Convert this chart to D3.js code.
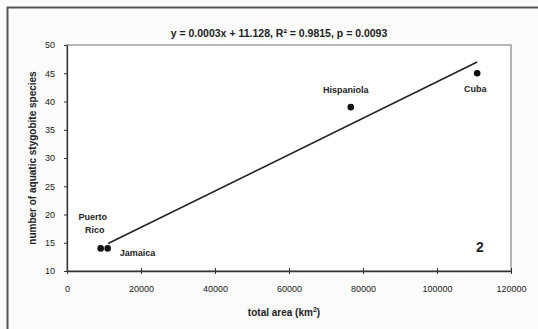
<!DOCTYPE html>
<html>
<head>
<meta charset="utf-8">
<script src="https://cdn.jsdelivr.net/npm/d3@7"></script>
<style>
  html, body { margin: 0; padding: 0; background: #fbfbfb; }
  svg { display: block; font-family: Arial, "Liberation Sans", sans-serif; }
</style>
</head>
<body>
<div id="chart"></div>
<script>
// islands, area in km2 and species count
const islands = ['Puerto Rico', 'Jamaica', 'Hispaniola', 'Cuba']
const areas = [9104, 10991, 76700, 110860]
const species = [14, 14, 39, 45]

const xTicks = [0, 20000, 40000, 60000, 80000, 100000, 120000]
const yTicks = [10, 15, 20, 25, 30, 35, 40, 45, 50]

const titleText = 'y = 0.0003x + 11.128, R\u00b2 = 0.9815, p = 0.0093'

const width = 538
const height = 329
const margin = { top: 45, right: 27, bottom: 58, left: 67 }

const svg = d3.select('#chart')
  .append('svg')
  .attr('width', width)
  .attr('height', height)

// outer frame of the scanned figure
svg.append('rect')
  .attr('x', 7.5)
  .attr('y', 7.5)
  .attr('width', width + 10)
  .attr('height', height + 10)
  .attr('fill', 'none')
  .attr('stroke', '#555')
  .attr('stroke-width', 2)

const x = d3.scaleLinear()
  .domain([0, 120000])
  .range([margin.left, width - margin.right])

const y = d3.scaleLinear()
  .domain([10, 50])
  .range([height - margin.bottom, margin.top])

// plot area border (top/right lighter)
svg.append('rect')
  .attr('x', x(0))
  .attr('y', y(50))
  .attr('width', x(120000) - x(0))
  .attr('height', y(10) - y(50))
  .attr('fill', '#fff')
  .attr('stroke', '#888')
  .attr('stroke-width', 1.2)

// axes
const xAxis = svg.append('g')
  .attr('transform', `translate(0,${y(10)})`)
  .call(d3.axisBottom(x).tickValues(xTicks).tickFormat(d3.format('d')).tickSizeInner(3).tickSizeOuter(0).tickPadding(12))
xAxis.select('.domain').attr('stroke', '#333').attr('stroke-width', 1.3)
xAxis.selectAll('.tick line').attr('y1', -3).attr('stroke', '#333')
xAxis.selectAll('.tick text').attr('font-size', 9).attr('fill', '#222')

const yAxis = svg.append('g')
  .attr('transform', `translate(${x(0)},0)`)
  .call(d3.axisLeft(y).tickValues(yTicks).tickSizeInner(3).tickSizeOuter(0).tickPadding(9))
yAxis.select('.domain').attr('stroke', '#333').attr('stroke-width', 1.3)
yAxis.selectAll('.tick line').attr('stroke', '#333')
yAxis.selectAll('.tick text').attr('font-size', 9).attr('fill', '#222')

// least squares fit drawn over the data range
const pts = areas.map((a, i) => ({ name: islands[i], area: a, n: species[i] }))
const mx = d3.mean(areas)
const my = d3.mean(species)
const slope = d3.sum(pts, p => (p.area - mx) * (p.n - my)) / d3.sum(pts, p => (p.area - mx) ** 2)
const intercept = my - slope * mx
const fitEnds = [d3.min(areas) + 2000, d3.max(areas)]

svg.append('line')
  .attr('x1', x(fitEnds[0]))
  .attr('y1', y(intercept + slope * fitEnds[0]))
  .attr('x2', x(fitEnds[1]))
  .attr('y2', y(intercept + slope * fitEnds[1]))
  .attr('stroke', '#222')
  .attr('stroke-width', 1.6)

svg.selectAll('.dot')
  .data(pts)
  .join('circle')
  .attr('class', 'dot')
  .attr('cx', d => x(d.area))
  .attr('cy', d => y(d.n))
  .attr('r', 3.3)
  .attr('fill', '#111')

// point labels
const labels = [
  { lines: ['Puerto', 'Rico'], anchor: 'middle', dx: -8, dy: -28 },
  { lines: ['Jamaica'], anchor: 'start', dx: 12, dy: 8 },
  { lines: ['Hispaniola'], anchor: 'middle', dx: -5, dy: -14 },
  { lines: ['Cuba'], anchor: 'middle', dx: -2, dy: 19 }
]
labels.forEach((l, i) => {
  const t = svg.append('text')
    .attr('x', x(areas[i]) + l.dx)
    .attr('y', y(species[i]) + l.dy)
    .attr('text-anchor', l.anchor)
    .attr('font-size', 9)
    .attr('font-weight', 'bold')
    .attr('fill', '#222')
  l.lines.forEach((s, j) => {
    t.append('tspan')
      .attr('x', x(areas[i]) + l.dx + (j ? 2 : 0))
      .attr('dy', j ? 13 : 0)
      .text(s)
  })
})

// panel number
svg.append('text')
  .attr('x', 480)
  .attr('y', 252)
  .attr('text-anchor', 'middle')
  .attr('font-size', 14)
  .attr('font-weight', 'bold')
  .attr('fill', '#222')
  .text('2')

// title
svg.append('text')
  .attr('x', 279)
  .attr('y', 37)
  .attr('text-anchor', 'middle')
  .attr('font-size', 10.5)
  .attr('font-weight', 'bold')
  .attr('fill', '#222')
  .text(titleText)

// axis titles
const xt = svg.append('text')
  .attr('x', 284)
  .attr('y', 316)
  .attr('text-anchor', 'middle')
  .attr('font-size', 10)
  .attr('font-weight', 'bold')
  .attr('fill', '#222')
xt.append('tspan').text('total area (km')
xt.append('tspan').attr('font-size', 7).attr('dy', -4).text('2')
xt.append('tspan').attr('dy', 4).text(')')

svg.append('text')
  .attr('transform', `translate(36,${(y(10) + y(50)) / 2}) rotate(-90)`)
  .attr('text-anchor', 'middle')
  .attr('font-size', 10)
  .attr('font-weight', 'bold')
  .attr('fill', '#222')
  .text('number of aquatic stygobite species')
</script>
</body>
</html>
